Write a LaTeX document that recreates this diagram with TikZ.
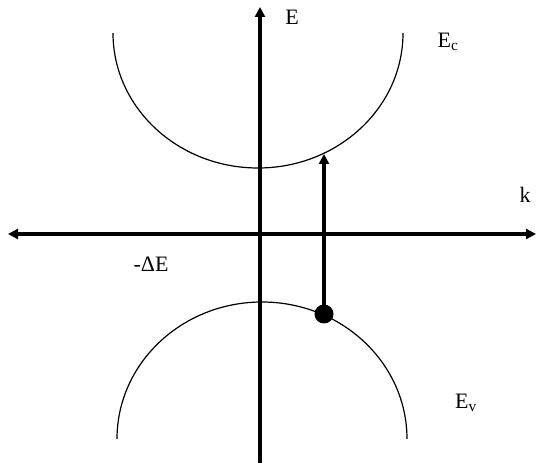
\documentclass[tikz,border=0pt]{standalone}
\usepackage{fontspec}
\setmainfont{Liberation Serif}
\usepackage{tikz}
\usetikzlibrary{arrows.meta}

\begin{document}
\begin{tikzpicture}[x=1pt, y=1pt,
  ax/.style={line width=3.5pt, {Triangle[length=10pt, width=10pt]}-{Triangle[length=10pt, width=10pt]}},
  axup/.style={line width=3.5pt, -{Triangle[length=10pt, width=10pt]}},
  band/.style={line width=1.2pt},
  lab/.style={font=\fontsize{22}{26}\selectfont, inner sep=0pt}]
\useasboundingbox (0,0) rectangle (536,464);

% --- axes ---
\coordinate (kl) at (8,230);
\coordinate (kr) at (536,230);
\coordinate (eb) at (260,1);
\coordinate (et) at (260,457);
\draw[ax] (kl) -- (kr);
\draw[axup] (eb) -- (et);

% --- the two bands ---
\draw[band] (113,431) arc[start angle=180, end angle=360, x radius=145, y radius=135];
\draw[band] (117,25) arc[start angle=180, end angle=0, x radius=145, y radius=137];

% --- transition from the valence band up to the conduction band ---
\node[circle, fill, inner sep=0pt, minimum size=19pt] (dot) at (324,150) {};
\coordinate (top) at (324,310);
\draw[axup] (dot.center) -- (top);

% labels
\node[lab] (lE)  at (292,447) {E};
\node[lab] (lEc) at (448,422) {E\textsubscript{c}};
\node[lab] (lk)  at (525,269) {k};
\node[lab] (ldE) at (151,200) {-ΔE};
\node[lab] (lEv) at (466,61)  {E\textsubscript{v}};
\end{tikzpicture}
\end{document}
